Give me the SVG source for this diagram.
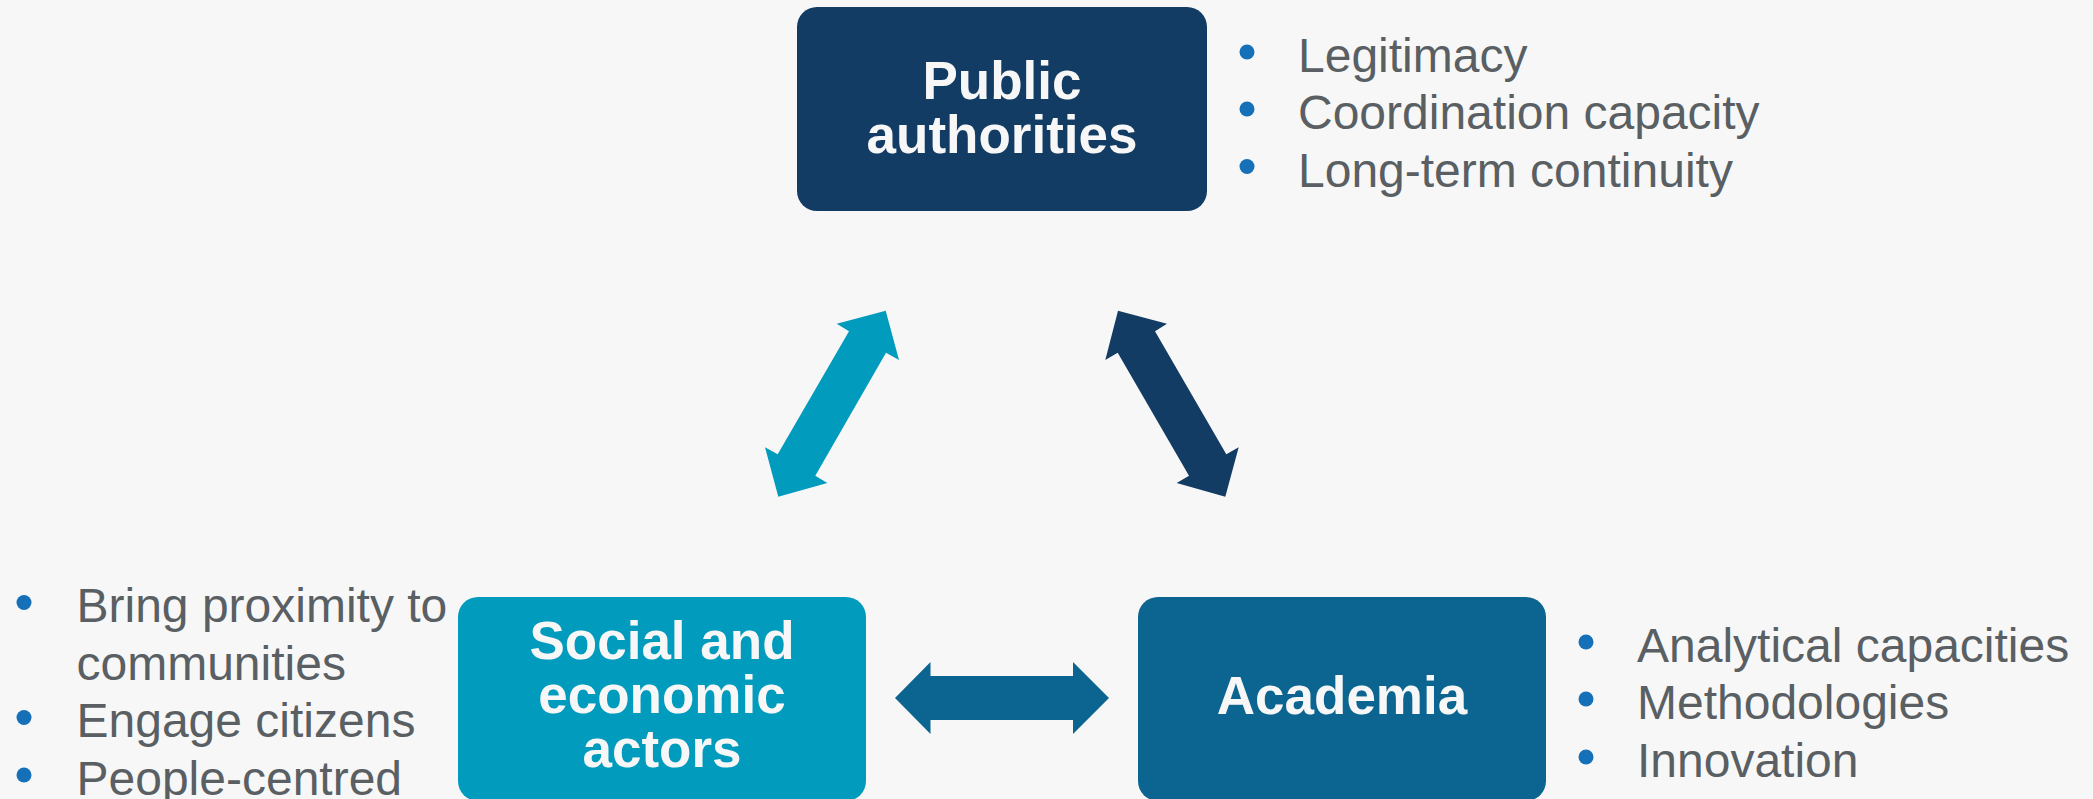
<svg xmlns="http://www.w3.org/2000/svg" width="2093" height="799" viewBox="0 0 2093 799">
  <style>
    .box-label { font-family: "Liberation Sans", Arial, sans-serif; font-weight: bold; font-size: 53px; fill: #f7f7f7; text-anchor: middle; }
    .item { font-family: "Liberation Sans", Arial, sans-serif; font-size: 48px; fill: #595f63; }
    .dot { fill: #1570b8; }
  </style>
  <rect x="0" y="0" width="2093" height="799" fill="#f7f7f7"/>

  <g id="connectors">
    <polygon id="arrow-social-public" fill="#009bbd" points="885.7,310.7 899,360 886,352.7 815.3,475.7 827.3,483 778.3,496.7 765,447.3 777.7,454.3 849,331.3 836.7,323.7"/>
    <polygon id="arrow-public-academia" fill="#133c64" points="1118,310.7 1167,323.7 1155,331.3 1226.3,454.3 1238.7,447.3 1225.3,496.7 1176.7,483 1189,475.7 1117.7,352.7 1105.3,360"/>
    <polygon id="arrow-social-academia" fill="#0c6590" points="895,698 930.5,662 930.5,676 1073,676 1073,662 1109,698 1073,734 1073,720 930.5,720 930.5,734"/>
  </g>

  <g id="node-public">
    <rect x="797" y="7" width="410" height="204" rx="20" ry="20" fill="#133c64"/>
    <text class="box-label" x="1002" y="99">Public</text>
    <text class="box-label" x="1002" y="153">authorities</text>
  </g>
  <g id="list-public">
    <circle class="dot" cx="1247" cy="52" r="7.5"/>
    <circle class="dot" cx="1247" cy="109" r="7.5"/>
    <circle class="dot" cx="1247" cy="166.5" r="7.5"/>
    <text class="item" x="1298" y="72">Legitimacy</text>
    <text class="item" x="1298" y="129">Coordination capacity</text>
    <text class="item" x="1298" y="186.5">Long-term continuity</text>
  </g>

  <g id="node-social">
    <rect x="458" y="597" width="408" height="204" rx="20" ry="20" fill="#009bbd"/>
    <text class="box-label" x="662" y="659">Social and</text>
    <text class="box-label" x="662" y="713">economic</text>
    <text class="box-label" x="662" y="767">actors</text>
  </g>
  <g id="list-social">
    <circle class="dot" cx="24" cy="602.5" r="7.5"/>
    <circle class="dot" cx="24" cy="717.5" r="7.5"/>
    <circle class="dot" cx="24" cy="775" r="7.5"/>
    <text class="item" x="76.5" y="622">Bring proximity to</text>
    <text class="item" x="76.5" y="679.5">communities</text>
    <text class="item" x="76.5" y="737">Engage citizens</text>
    <text class="item" x="76.5" y="794.5">People-centred</text>
  </g>

  <g id="node-academia">
    <rect x="1138" y="597" width="408" height="204" rx="20" ry="20" fill="#0c6590"/>
    <text class="box-label" x="1342" y="714">Academia</text>
  </g>
  <g id="list-academia">
    <circle class="dot" cx="1586" cy="642" r="7.5"/>
    <circle class="dot" cx="1586" cy="699" r="7.5"/>
    <circle class="dot" cx="1586" cy="757" r="7.5"/>
    <text class="item" x="1637" y="662">Analytical capacities</text>
    <text class="item" x="1637" y="719">Methodologies</text>
    <text class="item" x="1637" y="777">Innovation</text>
  </g>
</svg>
